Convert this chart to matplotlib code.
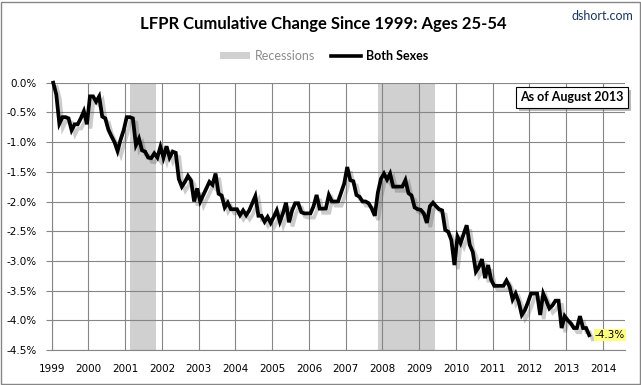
import matplotlib

matplotlib.use("Agg")
import matplotlib.pyplot as plt
import matplotlib.patheffects as pe
import numpy as np
from matplotlib.lines import Line2D
from matplotlib.patches import Patch, Rectangle
from matplotlib.ticker import FuncFormatter, MultipleLocator

# monthly cumulative change (%) since Jan 1999, Jan 1999 .. Aug 2013
lfpr_change = [
    0.00, -0.20, -0.69, -0.58, -0.58, -0.60, -0.80, -0.70, -0.70, -0.60, -0.48, -0.70,
    -0.23, -0.23, -0.32, -0.23, -0.57, -0.60, -0.79, -0.90, -1.00, -1.15, -0.96, -0.80,
    -0.58, -0.58, -0.60, -1.05, -0.94, -1.14, -1.16, -1.26, -1.27, -1.19, -1.26, -1.08,
    -1.26, -1.07, -1.26, -1.16, -1.18, -1.62, -1.75, -1.67, -1.57, -1.65, -2.00, -1.78,
    -2.00, -1.89, -1.78, -1.67, -1.72, -1.53, -1.87, -1.90, -2.10, -2.02, -2.13, -2.13,
    -2.13, -2.23, -2.15, -2.23, -2.15, -2.03, -1.91, -2.24, -2.24, -2.34, -2.26, -2.36,
    -2.26, -2.15, -2.34, -2.20, -2.02, -2.35, -2.15, -2.03, -2.03, -2.18, -2.20, -2.20,
    -2.20, -2.08, -1.89, -2.12, -2.12, -2.12, -1.89, -2.00, -2.00, -2.00, -1.85, -1.70,
    -1.42, -1.64, -1.66, -1.89, -1.92, -2.00, -2.00, -2.03, -2.12, -2.24, -1.85, -1.62,
    -1.53, -1.63, -1.53, -1.75, -1.75, -1.75, -1.75, -1.64, -1.86, -1.90, -2.10, -2.13,
    -2.14, -2.20, -2.36, -2.08, -2.02, -2.08, -2.13, -2.15, -2.48, -2.51, -2.65, -3.07,
    -2.59, -2.70, -2.55, -2.40, -2.73, -2.85, -3.18, -3.10, -2.97, -3.29, -3.07, -3.32,
    -3.42, -3.42, -3.42, -3.42, -3.33, -3.43, -3.65, -3.55, -3.69, -3.91, -3.83, -3.70,
    -3.55, -3.55, -3.55, -3.91, -3.55, -3.67, -3.80, -3.75, -3.67, -3.67, -4.13, -3.93,
    -4.00, -4.05, -4.13, -4.13, -3.93, -4.13, -4.13, -4.25,
]
start_year = 1999
recession_start = [2001.13, 2007.88]
recession_end = [2001.85, 2009.44]
last_label = "-4.3%"
as_of = "As of August 2013"

months = np.arange(len(lfpr_change))
dates = start_year + (months + 0.5) / 12

fig = plt.figure(figsize=(6.41, 3.85), dpi=100)
ax = fig.add_axes([51.7 / 641, 1 - 350 / 385, (625 - 51.7) / 641, (350 - 82.7) / 385])

grid_color = "#868686"
for x0, x1 in zip(recession_start, recession_end):
    ax.axvspan(x0, x1, color="#d0d0d0", lw=0, zorder=0.4)

ax.plot(
    dates, lfpr_change, color="black", lw=2.7, clip_on=False, zorder=3,
    solid_joinstyle="miter",
    path_effects=[pe.SimpleLineShadow(offset=(2.5, -3), shadow_color="#555555", alpha=0.3), pe.Normal()],
)

ax.set_xlim(1999, 2014.6)
ax.set_ylim(-4.5, 0)
ax.xaxis.set_major_locator(MultipleLocator(1))
ax.yaxis.set_major_locator(MultipleLocator(0.5))
ax.xaxis.set_major_formatter(FuncFormatter(lambda v, p: f"{int(round(v))}"))
ax.yaxis.set_major_formatter(FuncFormatter(lambda v, p: f"{v:.1f}%" if abs(v) > 1e-9 else "0.0%"))
ax.set_axisbelow(True)
ax.grid(True, color=grid_color, lw=0.8)
for side in ["top", "right"]:
    ax.spines[side].set_visible(False)
for side in ["left", "bottom"]:
    ax.spines[side].set_color(grid_color)
    ax.spines[side].set_linewidth(0.8)
ax.tick_params(axis="y", length=4, width=0.8, color=grid_color, pad=7, labelsize=7.5, labelcolor="black")
ax.tick_params(axis="x", length=0, pad=10, labelsize=7.5, labelcolor="black")

# end-point label
ax.annotate(
    last_label, (dates[-1], lfpr_change[-1]), xytext=(4, 0), textcoords="offset points",
    ha="left", va="center", fontsize=7.5,
    bbox=dict(boxstyle="square,pad=0.1", fc="#ffff80", ec="none"),
)

# "as of" box with a drop shadow
note = ax.text(0.9975, 0.945, as_of, color="black", transform=ax.transAxes,
               ha="right", va="center", fontsize=9, family="Lato", fontweight="bold",
               bbox=dict(boxstyle="square,pad=0.35", fc="white", ec="black", lw=0.8), zorder=5)
note.get_bbox_patch().set_path_effects(
    [pe.SimplePatchShadow(offset=(2, -2), shadow_rgbFace="#777777", alpha=0.5), pe.Normal()]
)

fig.text(0.505, 1 - 24 / 385, "LFPR Cumulative Change Since 1999: Ages 25-54",
         ha="center", va="center", fontsize=12, family="Lato", fontweight="bold")
fig.text(633 / 641, 1 - 16.5 / 385, "dshort.com", ha="right", va="center",
         fontsize=9, family="Lato", color="#17375e")

handles = [
    Patch(facecolor="#d0d0d0", edgecolor="none"),
    Line2D([], [], color="black", lw=2.6),
]
leg = fig.legend(
    handles, ["Recessions", "Both Sexes"], loc="center", ncol=2,
    bbox_to_anchor=(324 / 641, 1 - 56 / 385), frameon=False,
    prop=dict(family="Lato", size=9), handlelength=2.4, handleheight=0.55,
    handletextpad=0.4, columnspacing=1.3,
)
leg.get_texts()[0].set_color("#8c8c8c")
leg.get_texts()[1].set_fontweight("bold")

fig.patches.append(Rectangle((0.8 / 641, 1.2 / 385), 639 / 641, 382 / 385, transform=fig.transFigure,
                             fill=False, ec="#868686", lw=1))

fig.savefig("out.png", dpi=100)
